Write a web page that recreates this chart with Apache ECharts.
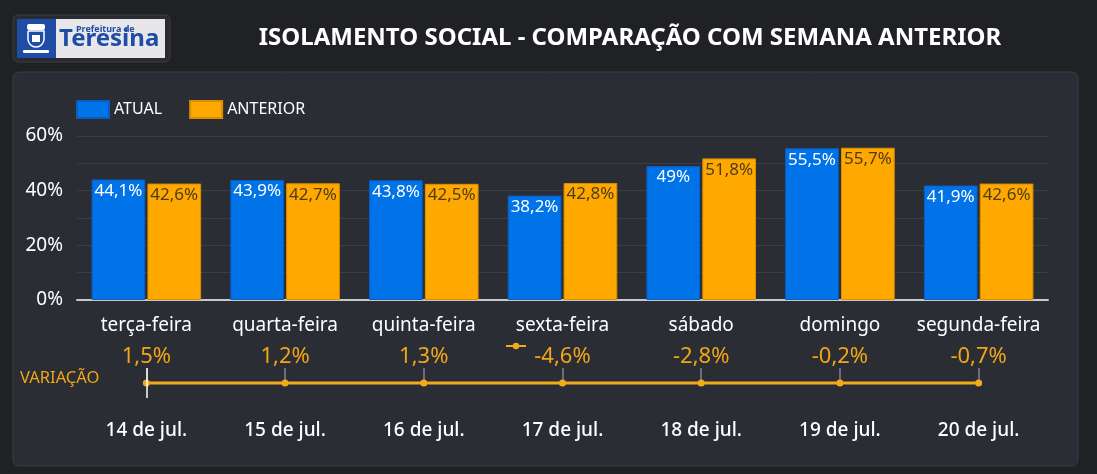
<!DOCTYPE html>
<html><head><meta charset="utf-8">
<script src="https://cdn.jsdelivr.net/npm/echarts@6/dist/echarts.min.js"></script>
<style>html,body{margin:0;padding:0;background:#202125;}#c{width:1097px;height:474px;}</style>
</head><body><div id="c"></div>
<script>
const weekdays = ['terça-feira','quarta-feira','quinta-feira','sexta-feira','sábado','domingo','segunda-feira'];
const dates = ['14 de jul.','15 de jul.','16 de jul.','17 de jul.','18 de jul.','19 de jul.','20 de jul.'];
const atual = [44.1, 43.9, 43.8, 38.2, 49, 55.5, 41.9];
const anterior = [42.6, 42.7, 42.5, 42.8, 51.8, 55.7, 42.6];
const variacao = [1.5, 1.2, 1.3, -4.6, -2.8, -0.2, -0.7];
const yTicks = [0, 20, 40, 60];

const fmt = v => String(v).replace('.', ',') + '%';
const FONT = 'Noto Sans';
const chart = echarts.init(document.getElementById('c'));
const gl = 77, gr = 49;

chart.setOption({
  backgroundColor: '#202125',
  textStyle: { fontFamily: FONT },
  animation: false,
  graphic: [
    { type: 'rect', shape: { x: 13, y: 72, width: 1065, height: 394, r: 6 }, style: { fill: '#2b2d35', stroke: '#3a3c44', lineWidth: 1 }, z: -10 },
    { type: 'rect', shape: { x: 13, y: 15, width: 157, height: 47, r: 5 }, style: { fill: '#2a2b31', stroke: '#3b3c42', lineWidth: 1 }, z: -10 },
    { type: 'rect', shape: { x: 17, y: 19, width: 39, height: 39 }, style: { fill: '#1f4ca6' } },
    { type: 'rect', shape: { x: 56, y: 19, width: 109, height: 39 }, style: { fill: '#e7e7ea' } },
    { type: 'rect', shape: { x: 27, y: 24, width: 18, height: 6, r: 2 }, style: { fill: '#ffffff' } },
    { type: 'rect', shape: { x: 28, y: 31, width: 16, height: 16, r: [0,0,8,8] }, style: { fill: 'none', stroke: '#ffffff', lineWidth: 1.5 } },
    { type: 'rect', shape: { x: 32, y: 35, width: 8, height: 7 }, style: { fill: '#ffffff' } },
    { type: 'rect', shape: { x: 23, y: 50, width: 26, height: 3, r: 1 }, style: { fill: '#ffffff' } },
    { type: 'text', x: 76, y: 25, style: { text: 'Prefeitura de', fill: '#1f4ca6', font: 'bold 9px "Noto Sans"' } },
    { type: 'text', x: 59, y: 27, style: { text: 'Teresina', fill: '#1f4ca6', font: 'bold 24px "Noto Sans"' } },
    { type: 'text', x: 20, y: 370, style: { text: 'VARIAÇÃO', fill: '#f2a516', font: '16.5px "Noto Sans"' } }
  ],
  title: {
    text: 'ISOLAMENTO SOCIAL - COMPARAÇÃO COM SEMANA ANTERIOR',
    left: 625, top: 21, textAlign: 'center',
    textStyle: { color: '#ffffff', fontSize: 24, fontWeight: 'bold', fontFamily: FONT }
  },
  legend: [
    {
      data: ['ATUAL', 'ANTERIOR'], left: 71, top: 95,
      itemWidth: 32, itemHeight: 17, itemGap: 27,
      textStyle: { color: '#ffffff', fontSize: 16, fontFamily: FONT },
      icon: 'rect'
    },
    {
      data: ['VARIAÇÃO'], left: 500, top: 337,
      itemWidth: 20, itemHeight: 8,
      formatter: () => '',
      textStyle: { color: '#f2a516' }
    }
  ],
  grid: [
    { left: gl, right: gr, top: 136, height: 164 },
    { left: gl, right: gr, top: 368, height: 30 }
  ],
  xAxis: [
    {
      type: 'category', data: weekdays, gridIndex: 0,
      axisLine: { lineStyle: { color: '#c8c8cc', width: 2 } },
      axisTick: { show: false },
      axisLabel: { interval: 0, color: '#ffffff', fontSize: 19, margin: 16, fontFamily: FONT }
    },
    {
      type: 'category', data: dates, gridIndex: 1, position: 'bottom',
      axisLine: { show: false }, axisTick: { show: false },
      axisLabel: { interval: 0, color: '#ffffff', fontSize: 19, fontWeight: 500, margin: 23, fontFamily: FONT }
    },
    {
      type: 'category', data: dates, gridIndex: 1, position: 'top',
      axisLine: { show: false },
      axisTick: { show: true, interval: 0, inside: true, length: 13, alignWithLabel: true, lineStyle: { color: '#80828a', width: 1.5 } },
      axisLabel: { show: false }
    }
  ],
  yAxis: [
    {
      type: 'value', gridIndex: 0, min: 0, max: 60, interval: 10,
      axisLine: { show: false }, axisTick: { show: false },
      splitLine: { lineStyle: { color: '#3c3e47', width: 1 } },
      axisLabel: {
        color: '#ffffff', fontSize: 19, margin: 14, fontFamily: FONT,
        formatter: v => yTicks.includes(v) ? v + '%' : ''
      }
    },
    {
      type: 'value', gridIndex: 1, min: -1000, max: 1000, show: false
    }
  ],
  series: [
    {
      name: 'ATUAL', type: 'bar', data: atual, xAxisIndex: 0, yAxisIndex: 0,
      barGap: '4%', barCategoryGap: '21%',
      itemStyle: { color: '#0073e8', borderColor: '#0b5cc0', borderWidth: 1 },
      label: { show: true, position: 'insideTop', distance: 3, color: '#ffffff', fontSize: 17, fontFamily: FONT, formatter: p => fmt(p.value) }
    },
    {
      name: 'ANTERIOR', type: 'bar', data: anterior, xAxisIndex: 0, yAxisIndex: 0,
      itemStyle: { color: '#ffa800', borderColor: '#d98f00', borderWidth: 1 },
      label: { show: true, position: 'insideTop', distance: 3, color: '#4e3c14', fontSize: 17, fontFamily: FONT, formatter: p => fmt(p.value) }
    },
    {
      name: 'VARIAÇÃO', type: 'line', data: variacao, xAxisIndex: 1, yAxisIndex: 1,
      symbol: 'circle', symbolSize: 7,
      lineStyle: { color: '#f4a81c', width: 3 },
      itemStyle: { color: '#f4a81c' },
      label: { show: true, position: 'top', distance: 12, color: '#f2a516', fontSize: 22, fontFamily: FONT, formatter: p => fmt(p.value) },
      markLine: {
        silent: true, symbol: 'none', label: { show: false },
        lineStyle: { color: '#ffffff', width: 1.5, type: 'solid' },
        data: [{ xAxis: '14 de jul.' }]
      }
    }
  ]
});
</script></body></html>
